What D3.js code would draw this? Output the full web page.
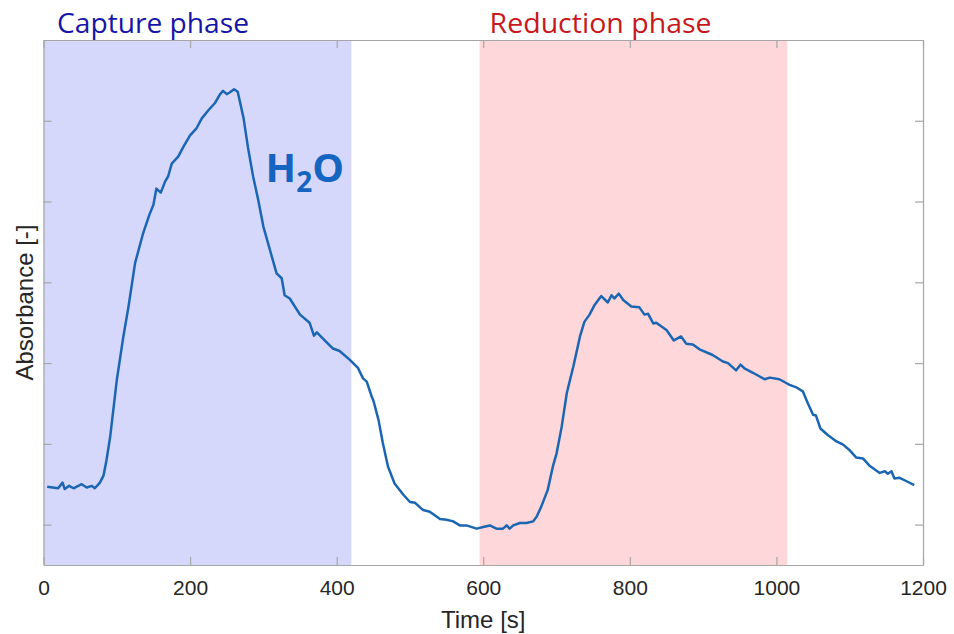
<!DOCTYPE html>
<html>
<head>
<meta charset="utf-8">
<script src="https://cdn.jsdelivr.net/npm/d3@7"></script>
<style>
  body { margin: 0; background: #fff; }
  svg { display: block; }
</style>
</head>
<body>
<div id="chart"></div>
<script>
// time axis [s] and measured absorbance (arbitrary units)
const times = [5, 20, 26, 29, 35, 41, 52, 59, 66, 70, 77, 82, 86, 91, 100, 109, 116, 125, 136, 145,
  150, 154, 160, 166, 170, 175, 184, 191, 200, 209, 216, 225, 234, 241, 245, 250, 254, 260, 265, 273,
  279, 286, 293, 300, 309, 318, 325, 329, 336, 350, 363, 369, 373, 386, 395, 404, 418, 429, 436, 441,
  448, 450, 457, 463, 470, 479, 491, 500, 507, 518, 527, 541, 550, 559, 568, 577, 591, 600, 609, 618,
  627, 632, 636, 641, 650, 659, 668, 673, 679, 688, 695, 700, 707, 714, 723, 732, 738, 745, 752, 761,
  770, 775, 779, 785, 791, 802, 813, 820, 825, 832, 836, 850, 860, 870, 877, 886, 895, 913, 927, 934,
  945, 951, 957, 968, 984, 991, 1004, 1014, 1018, 1027, 1036, 1043, 1050, 1054, 1060, 1070, 1082, 1091, 1100, 1109,
  1118, 1127, 1141, 1148, 1152, 1157, 1161, 1168, 1177, 1188];

const absorbance = [0.047, 0.045, 0.052, 0.044, 0.048, 0.045, 0.050, 0.046, 0.048, 0.045, 0.052, 0.061, 0.080, 0.109, 0.179, 0.233, 0.270, 0.324, 0.361, 0.385,
  0.396, 0.416, 0.411, 0.425, 0.431, 0.447, 0.456, 0.468, 0.482, 0.491, 0.503, 0.513, 0.522, 0.533, 0.537, 0.533, 0.535, 0.539, 0.536, 0.503,
  0.467, 0.431, 0.402, 0.369, 0.340, 0.311, 0.305, 0.284, 0.280, 0.260, 0.250, 0.234, 0.238, 0.226, 0.218, 0.215, 0.204, 0.194, 0.181, 0.177,
  0.158, 0.154, 0.130, 0.101, 0.072, 0.051, 0.037, 0.028, 0.027, 0.018, 0.016, 0.007, 0.006, 0.004, -0.001, -0.001, -0.005, -0.003, -0.001, -0.005,
  -0.005, -0.001, -0.005, -0.001, 0.002, 0.002, 0.004, 0.010, 0.022, 0.043, 0.072, 0.088, 0.121, 0.163, 0.196, 0.233, 0.251, 0.260, 0.272, 0.283,
  0.275, 0.284, 0.280, 0.286, 0.278, 0.270, 0.269, 0.260, 0.261, 0.249, 0.250, 0.241, 0.228, 0.233, 0.224, 0.223, 0.217, 0.210, 0.202, 0.200,
  0.191, 0.198, 0.193, 0.188, 0.180, 0.182, 0.180, 0.175, 0.173, 0.170, 0.165, 0.150, 0.136, 0.135, 0.119, 0.111, 0.103, 0.099, 0.092, 0.083,
  0.082, 0.073, 0.064, 0.066, 0.063, 0.066, 0.057, 0.058, 0.054, 0.049];

const phaseNames = ["Capture phase", "Reduction phase"];
const phaseStart = [0, 595];
const phaseEnd = [420, 1015];
const phaseFill = ["#d6d8fb", "#fdd7da"];
const phaseText = ["#1515a8", "#c8181c"];

const xTicks = [0, 200, 400, 600, 800, 1000, 1200];
const yTicks = [0, 0.1, 0.2, 0.3, 0.4, 0.5];

const width = 954, height = 634;
const margin = { top: 40, right: 31, bottom: 69, left: 43.5 };
const innerW = width - margin.left - margin.right;
const innerH = height - margin.top - margin.bottom;

const svg = d3.select("#chart").append("svg")
    .attr("width", width)
    .attr("height", height);

const g = svg.append("g").attr("transform", `translate(${margin.left},${margin.top})`);

const x = d3.scaleLinear().domain([0, 1200]).range([0, innerW]);
const y = d3.scaleLinear().domain([-0.05, 0.6]).range([innerH, 0]);

// phase bands
g.selectAll("rect.phase")
    .data(phaseNames)
    .enter().append("rect")
    .attr("class", "phase")
    .attr("x", (d, i) => x(phaseStart[i]))
    .attr("y", 0)
    .attr("width", (d, i) => x(phaseEnd[i]) - x(phaseStart[i]))
    .attr("height", innerH)
    .attr("fill", (d, i) => phaseFill[i]);

// phase titles above the plot
g.selectAll("text.phase")
    .data(phaseNames)
    .enter().append("text")
    .attr("class", "phase")
    .attr("x", (d, i) => x(phaseStart[i]) + (i === 0 ? 13.5 : 10))
    .attr("y", -7)
    .attr("font-family", "'Open Sans', 'Noto Sans', sans-serif")
    .attr("font-size", 27)
    .attr("textLength", (d, i) => i === 0 ? 192 : 222)
    .attr("lengthAdjust", "spacingAndGlyphs")
    .attr("fill", (d, i) => phaseText[i])
    .text(d => d);

// axes, MATLAB style box with inward ticks
const tickColor = "#a6a6a6";
const axisBottom = g.append("g").attr("transform", `translate(0,${innerH})`)
    .call(d3.axisBottom(x).tickValues(xTicks).tickFormat(d3.format("d"))
        .tickSizeInner(-8).tickSizeOuter(0).tickPadding(15));
const axisTop = g.append("g")
    .call(d3.axisTop(x).tickValues(xTicks).tickSizeInner(-8).tickSizeOuter(0).tickFormat(""));
const axisLeft = g.append("g")
    .call(d3.axisLeft(y).tickValues(yTicks).tickSizeInner(-8).tickSizeOuter(0).tickFormat(""));
const axisRight = g.append("g").attr("transform", `translate(${innerW},0)`)
    .call(d3.axisRight(y).tickValues(yTicks).tickSizeInner(-8).tickSizeOuter(0).tickFormat(""));

[axisBottom, axisTop, axisLeft, axisRight].forEach(a => {
    a.select(".domain").attr("stroke", tickColor).attr("stroke-width", 1.2);
    a.selectAll(".tick line").attr("stroke", tickColor).attr("stroke-width", 1.2);
});
axisBottom.selectAll(".tick text")
    .attr("font-family", "'Liberation Sans', Arial, sans-serif")
    .attr("font-size", 21)
    .attr("fill", "#262626");

// data line
const line = d3.line()
    .x((d, i) => x(times[i]))
    .y(d => y(d));

g.append("path")
    .datum(absorbance)
    .attr("fill", "none")
    .attr("stroke", "#1b66b3")
    .attr("stroke-width", 2.5)
    .attr("stroke-linejoin", "round")
    .attr("d", line);

// species label
const lbl = g.append("text")
    .attr("x", x(303))
    .attr("y", 182 - margin.top)
    .attr("font-family", "'Open Sans', 'Noto Sans', sans-serif")
    .attr("font-weight", "bold")
    .attr("font-size", 40)
    .attr("fill", "#1565c0");
lbl.append("tspan").text("H");
lbl.append("tspan").attr("font-size", 28).attr("dy", 10).text("2");
lbl.append("tspan").attr("dy", -10).text("O");

// axis labels
g.append("text")
    .attr("x", innerW / 2)
    .attr("y", innerH + 63)
    .attr("text-anchor", "middle")
    .attr("font-family", "'Liberation Sans', Arial, sans-serif")
    .attr("font-size", 24)
    .attr("fill", "#262626")
    .text("Time [s]");

g.append("text")
    .attr("transform", `translate(${33 - margin.left},${innerH / 2}) rotate(-90)`)
    .attr("text-anchor", "middle")
    .attr("font-family", "'Liberation Sans', Arial, sans-serif")
    .attr("font-size", 24)
    .attr("fill", "#262626")
    .text("Absorbance [-]");
</script>
</body>
</html>
